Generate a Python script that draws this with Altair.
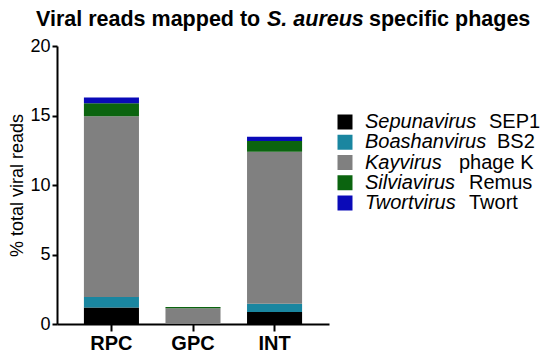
import altair as alt
import pandas as pd

# ---------------- data ----------------
groups = ["RPC", "GPC", "INT"]
genus = ["Sepunavirus", "Boashanvirus", "Kayvirus", "Silviavirus", "Twortvirus"]
phage = ["SEP1", "BS2", "phage K", "Remus", "Twort"]
sepunavirus = [1.19, 0.0, 0.86]
boashanvirus = [0.75, 0.0, 0.60]
kayvirus = [13.0, 1.13, 10.94]
silviavirus = [0.95, 0.09, 0.76]
twortvirus = [0.40, 0.0, 0.31]
colors = ["#000000", "#1a86a0", "#808080", "#0b640f", "#0a0ab8"]

series_values = [sepunavirus, boashanvirus, kayvirus, silviavirus, twortvirus]
series = [g + " " + p for g, p in zip(genus, phage)]

rows = []
for i, (s, vals) in enumerate(zip(series, series_values)):
    for g, v in zip(groups, vals):
        rows.append({"group": g, "series": s, "idx": i, "value": v})
df = pd.DataFrame(rows)

# ---------------- layout ----------------
FONT = "Liberation Sans"
legend_text_x = 308          # relative to plot origin
name_offsets = [124, 132, 94, 104, 104]   # start of roman name after italic genus
leg = pd.DataFrame({
    "genus": genus,
    "phage": phage,
    "series": series,
    "tx": [legend_text_x + o for o in name_offsets],
})

color_enc = alt.Color("series:N", scale=alt.Scale(domain=series, range=colors), legend=None)

bars = alt.Chart(df).mark_bar().encode(
    x=alt.X("group:N", sort=groups,
            scale=alt.Scale(paddingInner=0.325, paddingOuter=0.33),
            axis=alt.Axis(title=None, labelAngle=0, labelFont=FONT, labelFontWeight="bold",
                          labelFontSize=20, labelColor="black", domainColor="black",
                          domainWidth=2, tickColor="black", tickWidth=2, tickSize=7,
                          labelPadding=2)),
    y=alt.Y("value:Q", stack="zero",
            scale=alt.Scale(domain=[0, 20], nice=False),
            axis=alt.Axis(values=[0, 5, 10, 15, 20], title="% total viral reads", grid=False,
                          labelFont=FONT, labelFontSize=18, labelColor="black",
                          domainColor="black", domainWidth=2, tickColor="black",
                          tickWidth=2, tickSize=5, labelPadding=2,
                          titleFont=FONT, titleFontSize=18, titleFontWeight="normal",
                          titleColor="black", titlePadding=3)),
    color=color_enc,
    order=alt.Order("idx:Q", sort="ascending"),
)

leg_y = alt.Y("genus:N", sort=genus, axis=None,
              scale=alt.Scale(range=[76, 157], padding=0))

squares = alt.Chart(leg).mark_square(size=225, opacity=1).encode(
    x=alt.value(288), y=leg_y, color=color_enc)

genus_txt = alt.Chart(leg).mark_text(
    align="left", baseline="middle", font=FONT, fontStyle="italic", fontSize=20, color="black"
).encode(x=alt.value(legend_text_x), y=leg_y, text="genus:N")

phage_txt = alt.Chart(leg).mark_text(
    align="left", baseline="middle", font=FONT, fontSize=20, color="black"
).encode(x=alt.X("tx:Q", scale=None), y=leg_y, text="phage:N")

def title_piece(text, x, italic=False):
    return alt.Chart(pd.DataFrame({"t": [text]})).mark_text(
        align="left", baseline="alphabetic", font=FONT, fontWeight="bold",
        fontStyle="italic" if italic else "normal", fontSize=21.5, color="black"
    ).encode(x=alt.value(x), y=alt.value(-20), text="t:N")

t1 = title_piece("Viral reads mapped to", -21)
t2 = title_piece("S. aureus", 210, italic=True)
t3 = title_piece("specific phages", 312)

chart = alt.layer(bars, squares, genus_txt, phage_txt, t1, t2, t3).resolve_scale(
    x="independent", y="independent"
).properties(
    width=272, height=278, autosize="none",
    padding={"left": 49, "top": 38, "right": 213, "bottom": 28},
).configure_view(stroke=None)

chart.save("out.html", embed_options={"renderer": "svg", "actions": False})
